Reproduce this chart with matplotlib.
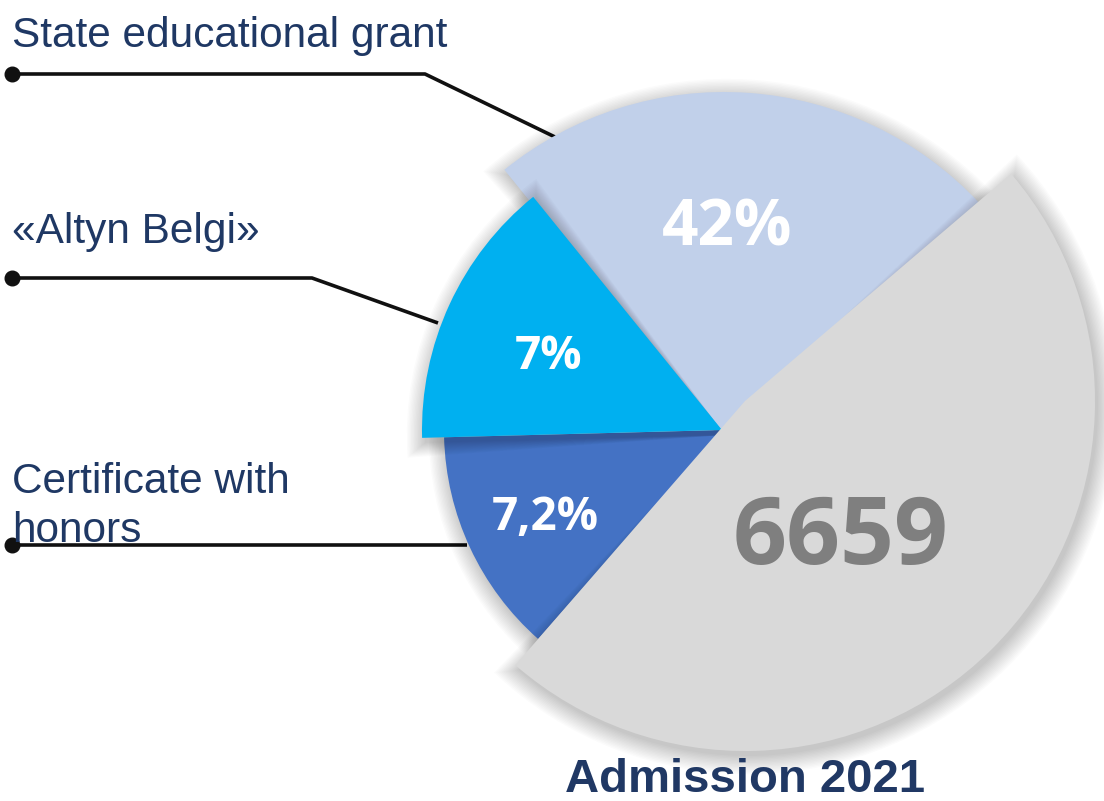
import matplotlib
matplotlib.use("Agg")
import matplotlib.pyplot as plt
from matplotlib.patches import Wedge

# ---- data ----
categories = ["State educational grant", "«Altyn Belgi»", "Certificate with\nhonors"]
shares = [42, 7, 7.2]
total_admitted = 6659
chart_title = "Admission 2021"

# ---- style / layout (pixels, image y grows downward) ----
W, H = 1104, 801
slice_colors = ["#C1D0EA", "#00B0F0", "#4472C4", "#D9D9D9"]
NAVY = "#1F3864"
# (centre, radius, start angle, end angle) - angles counter-clockwise on screen
slice_geom = [
    ((724, 441), 349, 43, 129),
    ((722, 430), 300, 129, 181.5),
    ((723, 430), 279, 181.5, 228.5),
    ((745, 401), 350, -131, 40.5),
]
draw_order = [0, 2, 1, 3]
leader_paths = [
    [(12, 74), (425, 74), (555, 137)],
    [(12, 278), (312, 278), (438, 323)],
    [(12, 545), (467, 545)],
]
label_baselines = [[47], [243], [493, 542]]
share_pos = [(727, 246), (548, 369), (545, 530)]
total_pos = (841, 564)
title_pos = (745, 792)

fig = plt.figure(figsize=(W / 100, H / 100), dpi=100)
ax = fig.add_axes([0, 0, 1, 1])
ax.set_xlim(0, W)
ax.set_ylim(H, 0)
ax.set_aspect("equal")
ax.axis("off")


def add_wedge(center, r, t1, t2, **kw):
    # y axis is inverted, so screen angles flip sign
    ax.add_patch(Wedge(center, r, -t2, -t1, **kw))


# leader lines with dots (under the pie)
for path in leader_paths:
    xs, ys = zip(*path)
    ax.plot(xs, ys, color="#111111", lw=2.6, solid_capstyle="butt", zorder=1)
    ax.plot(xs[0], ys[0], "o", color="#111111", ms=10.5, zorder=1)

# slices with a soft shadow
z = 2
for i in draw_order:
    (cx, cy), r, t1, t2 = slice_geom[i]
    for k in range(14):
        add_wedge((cx + 3, cy + 5), r + 1.4 * k, t1 - 0.2 * k, t2 + 0.2 * k,
                  facecolor="black", alpha=0.016, lw=0, zorder=z)
    z += 1
    add_wedge((cx, cy), r, t1, t2, facecolor=slice_colors[i], lw=0, zorder=z)
    z += 1

# category labels
for name, baselines in zip(categories, label_baselines):
    for line, yb in zip(name.split("\n"), baselines):
        ax.text(12, yb, line, fontsize=30.5, color=NAVY, ha="left", va="baseline",
                family=["Liberation Sans", "DejaVu Sans"], zorder=20)

# share labels inside slices
share_sizes = [46, 33, 33]
for v, (x, y), fs in zip(shares, share_pos, share_sizes):
    txt = f"{v:g}%".replace(".", ",")
    ax.text(x, y, txt, fontsize=fs, color="white", fontweight="bold",
            ha="center", va="baseline", family=["Open Sans", "DejaVu Sans"], zorder=20)

ax.text(total_pos[0], total_pos[1], str(total_admitted), fontsize=68, color="#7F7F7F",
        fontweight="bold", ha="center", va="baseline",
        family=["Open Sans", "DejaVu Sans"], zorder=20)

ax.text(title_pos[0], title_pos[1], chart_title, fontsize=34, color="#203864",
        fontweight="bold", ha="center", va="baseline",
        family=["Liberation Sans", "DejaVu Sans"], zorder=20)

fig.savefig("out.png", dpi=100, facecolor="white")
